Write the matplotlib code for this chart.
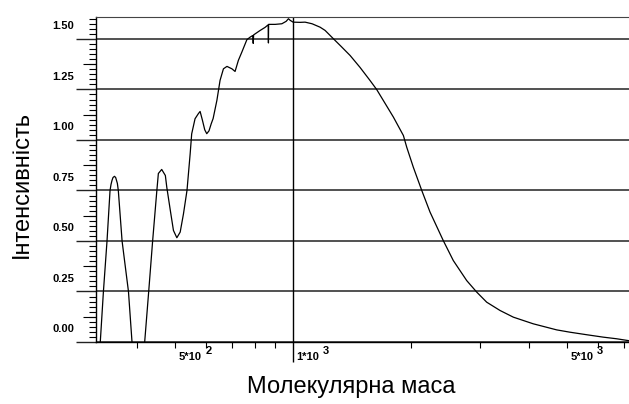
import numpy as np
import matplotlib
matplotlib.use("Agg")
import matplotlib.pyplot as plt
import matplotlib.transforms as mtransforms
from matplotlib.ticker import FixedLocator, NullFormatter

plt.rcParams["font.family"] = ["Liberation Sans", "DejaVu Sans"]

# ─── Data (molecular mass vs intensity) ──────────────────────────────────────
mass = [318, 322, 328, 335, 341, 343, 345, 347, 350, 352.5, 356, 358, 366,
        376, 380, 388, 391, 402, 418, 428, 438, 449, 453, 462, 472, 476, 486,
        495, 505, 515, 525, 536, 546, 551, 562, 573, 579, 587, 595, 602, 610,
        618, 625, 639, 651, 664, 678, 698, 711, 725, 740, 762, 777, 789, 791,
        793, 824, 848, 864, 865, 866, 900, 936, 960, 973, 983, 1000, 1042,
        1073, 1118, 1172, 1207, 1267, 1326, 1398, 1482, 1572, 1635, 1717, 1803,
        1912, 1950, 2027, 2130, 2236, 2417, 2564, 2774, 2942, 3120, 3374, 3648,
        4102, 4707, 5089, 5614, 6189, 6695, 7168, 7300]
intensity = [-0.04, 0.00, 0.25, 0.50, 0.75, 0.78, 0.80, 0.814, 0.82, 0.814,
             0.785, 0.75, 0.50, 0.32, 0.25, 0.00, -0.05, -0.30, 0.00, 0.25,
             0.50, 0.75, 0.834, 0.854, 0.824, 0.766, 0.651, 0.552, 0.516,
             0.544, 0.634, 0.75, 0.93, 1.03, 1.105, 1.13, 1.141, 1.097, 1.05,
             1.031, 1.045, 1.08, 1.106, 1.196, 1.295, 1.352, 1.364, 1.352,
             1.339, 1.394, 1.435, 1.496, 1.509, 1.517, 1.478, 1.520, 1.542,
             1.557, 1.570, 1.48, 1.572, 1.572, 1.575, 1.587, 1.600, 1.592,
             1.583, 1.582, 1.583, 1.575, 1.558, 1.542, 1.501, 1.463, 1.418,
             1.359, 1.294, 1.249, 1.181, 1.113, 1.022, 0.964, 0.865, 0.750,
             0.643, 0.502, 0.403, 0.304, 0.247, 0.197, 0.156, 0.123, 0.090,
             0.060, 0.0485, 0.036, 0.024, 0.016, 0.007, 0.004]

y_major = [0.0, 0.25, 0.50, 0.75, 1.00, 1.25, 1.50]
y_labels = ["0.00", "0.25", "0.50", "0.75", "1.00", "1.25", "1.50"]
y_mid = [0.125, 0.375, 0.625, 0.875, 1.125, 1.375]
x_minor = [400, 500, 600, 700, 800, 900, 2000, 3000, 4000, 5000, 6000, 7000]
x_labelled = [500, 1000, 5000]
x_base = ["5*10", "1*10", "5*10"]
x_power = ["2", "3", "3"]

# ─── Figure ──────────────────────────────────────────────────────────────────
fig = plt.figure(figsize=(6.29, 4.04), dpi=100)
ax = fig.add_axes([96 / 629, 62 / 404, 533 / 629, 324.5 / 404])

ax.plot(mass, intensity, color="black", lw=0.9)
ax.set_xscale("log")
ax.set_xlim(314, 7200)
ax.set_ylim(0, 1.606)

ax.spines["right"].set_visible(False)
ax.spines["top"].set_color("#444444")
for s in ("left", "bottom"):
    ax.spines[s].set_color("black")
    ax.spines[s].set_linewidth(1.0)

# y axis: long major ticks that continue as grid lines, labels shifted up
ax.yaxis.set_major_locator(FixedLocator(y_major))
ax.yaxis.set_minor_locator(FixedLocator(np.arange(0, 1.61, 0.025)))
ax.yaxis.set_major_formatter(NullFormatter())
ax.tick_params(axis="y", which="major", length=14.5, width=1.0, color="#222222")
ax.tick_params(axis="y", which="minor", length=5, width=0.8)
ax.grid(axis="y", which="major", color="#222222", lw=1.1)

sec = ax.secondary_yaxis("left")
sec.spines["left"].set_visible(False)
sec.set_yticks(y_mid)
sec.set_yticklabels([])
sec.tick_params(length=9.5, width=0.8)

lab_tr = mtransforms.blended_transform_factory(ax.transAxes, ax.transData) + \
    mtransforms.ScaledTranslation(0, 12.5 / 100, fig.dpi_scale_trans)
for v, t in zip(y_major, y_labels):
    ax.text(-22 / 533, v, t, transform=lab_tr, ha="right", va="center",
            fontsize=8, fontweight="bold")

# x axis: small ticks, long tick + vertical line at 10^3
ax.xaxis.set_major_locator(FixedLocator([1000]))
ax.xaxis.set_minor_locator(FixedLocator(x_minor))
ax.xaxis.set_major_formatter(NullFormatter())
ax.xaxis.set_minor_formatter(NullFormatter())
ax.tick_params(axis="x", which="major", length=14.5, width=1.0)
ax.tick_params(axis="x", which="minor", length=4.5, width=0.8)
ax.axvline(1000, color="black", lw=1.0)

base_tr = ax.get_xaxis_transform() + \
    mtransforms.ScaledTranslation(3.5 / 100, -15 / 100, fig.dpi_scale_trans)
pow_tr = ax.get_xaxis_transform() + \
    mtransforms.ScaledTranslation(30 / 100, -9 / 100, fig.dpi_scale_trans)
for v, b, p in zip(x_labelled, x_base, x_power):
    ax.text(v, 0, b, transform=base_tr, ha="left", va="center",
            fontsize=8, fontweight="bold")
    ax.text(v, 0, p, transform=pow_tr, ha="left", va="center",
            fontsize=8, fontweight="bold")

fig.text(351 / 629, 1 - 387 / 404, "Молекулярна маса", ha="center",
         va="center", fontsize=17)
fig.text(22 / 629, 1 - 184 / 404, "Інтенсивність", ha="center",
         va="center", rotation=90, fontsize=17)

fig.savefig("out.png", dpi=100)
